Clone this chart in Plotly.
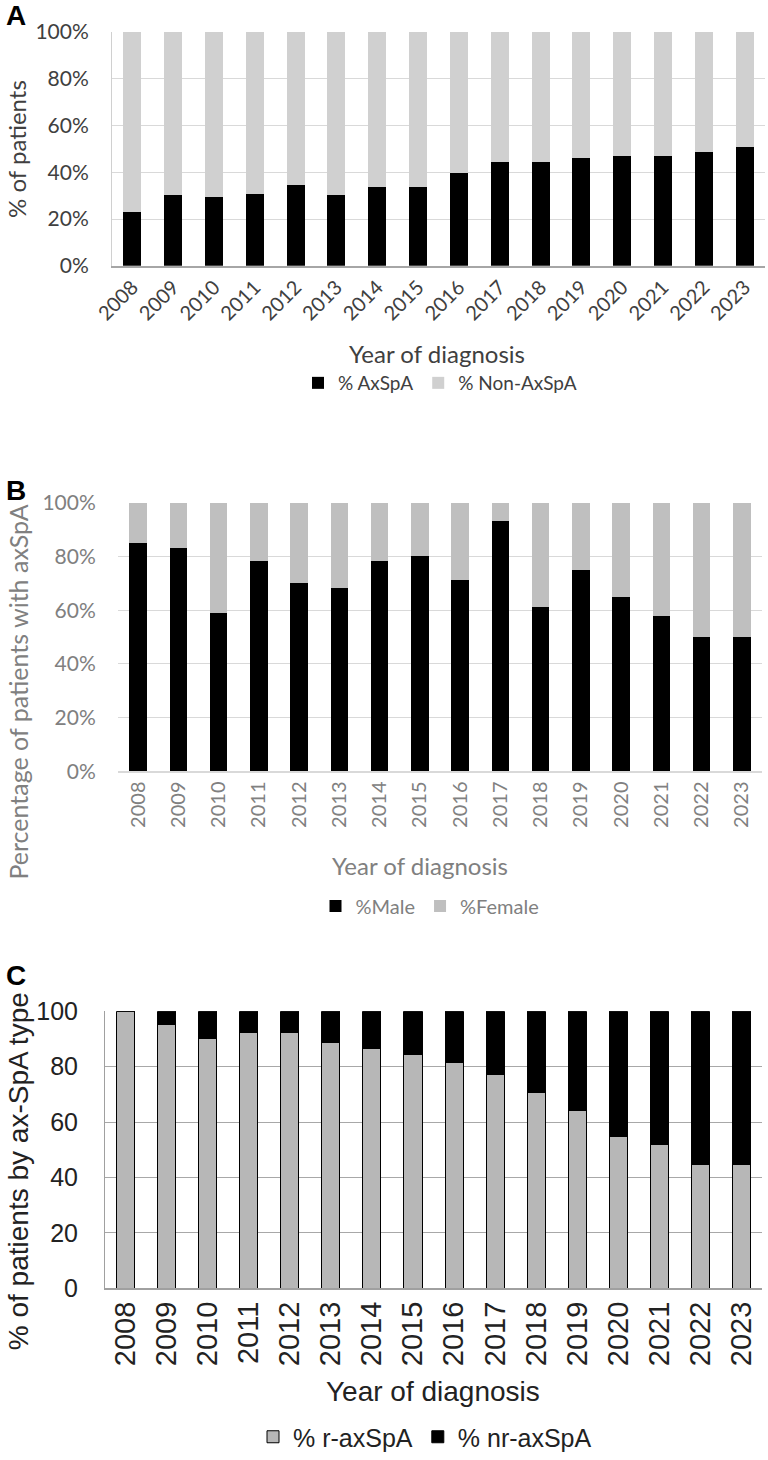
import plotly.graph_objects as go

years = [str(y) for y in range(2008, 2024)]

# Panel A
pct_axspa = [23.1, 30.1, 29.5, 30.7, 34.4, 30.1, 33.7, 33.7, 39.5, 44.4, 44.4, 45.9, 47.1, 47.1, 48.5, 50.8]
pct_non_axspa = [76.9, 69.9, 70.5, 69.3, 65.6, 69.9, 66.3, 66.3, 60.5, 55.6, 55.6, 54.1, 52.9, 52.9, 51.5, 49.2]

# Panel B
pct_male = [85.1, 83.1, 58.8, 78.4, 70.2, 68.4, 78.4, 80.1, 71.2, 93.1, 61.2, 75.1, 65.0, 57.9, 50.0, 50.0]
pct_female = [14.9, 16.9, 41.2, 21.6, 29.8, 31.6, 21.6, 19.9, 28.8, 6.9, 38.8, 24.9, 35.0, 42.1, 50.0, 50.0]

# Panel C
pct_r_axspa = [100, 95.2, 90.3, 92.4, 92.4, 88.8, 86.6, 84.5, 81.6, 77.3, 70.8, 64.3, 54.9, 52.0, 44.8, 44.8]
pct_nr_axspa = [0, 4.8, 9.7, 7.6, 7.6, 11.2, 13.4, 15.5, 18.4, 22.7, 29.2, 35.7, 45.1, 48.0, 55.2, 55.2]

tick_vals = [0, 20, 40, 60, 80, 100]
tick_pct = ["0%", "20%", "40%", "60%", "80%", "100%"]
tick_num = ["0", "20", "40", "60", "80", "100"]

W = 768.0
H = 1460.0

def py(pix):
    return 1 - pix / H

def px(pix):
    return pix / W

fontAB = "Lato, 'Open Sans', sans-serif"
fontC = "'Liberation Sans', Arial, sans-serif"
colA = "#404040"
colB = "#808080"
colC = "#222222"
clear = "rgba(0,0,0,0)"

fig = go.Figure()

# A
fig.add_trace(go.Bar(x=years, y=pct_axspa, name="% AxSpA", marker=dict(color="#000000", line=dict(width=0)),
                     xaxis="x", yaxis="y", legend="legend"))
fig.add_trace(go.Bar(x=years, y=pct_non_axspa, name="% Non-AxSpA", marker=dict(color="#d0d0d0", line=dict(width=0)),
                     xaxis="x", yaxis="y", legend="legend"))
# B
fig.add_trace(go.Bar(x=years, y=pct_male, name="%Male", marker=dict(color="#000000", line=dict(width=0)),
                     xaxis="x2", yaxis="y2", legend="legend2"))
fig.add_trace(go.Bar(x=years, y=pct_female, name="%Female", marker=dict(color="#bfbfbf", line=dict(width=0)),
                     xaxis="x2", yaxis="y2", legend="legend2"))
# C
fig.add_trace(go.Bar(x=years, y=pct_r_axspa, name="% r-axSpA", marker=dict(color="#b7b7b7", line=dict(width=1, color="#000000")),
                     xaxis="x3", yaxis="y3", legend="legend3"))
fig.add_trace(go.Bar(x=years, y=pct_nr_axspa, name="% nr-axSpA", marker=dict(color="#000000", line=dict(width=1, color="#000000")),
                     xaxis="x3", yaxis="y3", legend="legend3"))

fig.update_layout(
    width=int(W), height=int(H),
    margin=dict(l=0, r=0, t=0, b=0),
    paper_bgcolor="white", plot_bgcolor="white",
    barmode="stack",
    bargap=0.56,
    showlegend=True,
    xaxis=dict(domain=[px(112), px(765)], anchor="y", tickangle=-45, automargin=False,
               tickfont=dict(family=fontAB, size=20, color=colA),
               showline=True, linecolor="#a6a6a6", linewidth=2, ticks="", showgrid=False),
    yaxis=dict(domain=[py(266), py(32)], anchor="x", range=[0, 100], tickvals=tick_vals,
               ticktext=tick_pct, automargin=False,
               ticks="outside", ticklen=18, tickcolor=clear,
               tickfont=dict(family=fontAB, size=21, color=colA),
               showgrid=True, gridcolor="#d9d9d9", gridwidth=1,
               showline=True, linecolor="#d0d0d0", linewidth=1, zeroline=False),
    xaxis2=dict(domain=[px(118), px(762)], anchor="y2", tickangle=-90, automargin=False,
                tickfont=dict(family=fontAB, size=20, color=colB),
                showline=True, linecolor="#d9d9d9", linewidth=2, ticks="", showgrid=False),
    yaxis2=dict(domain=[py(772), py(503)], anchor="x2", range=[0, 100], tickvals=tick_vals,
                ticktext=tick_pct, automargin=False,
                ticks="outside", ticklen=17, tickcolor=clear,
                tickfont=dict(family=fontAB, size=21, color=colB),
                showgrid=True, gridcolor="#d9d9d9", gridwidth=1,
                showline=False, zeroline=False),
    xaxis3=dict(domain=[px(105), px(762)], anchor="y3", tickangle=-90, automargin=False,
                tickfont=dict(family=fontC, size=29, color=colC),
                showline=True, linecolor="#a0a0a0", linewidth=2, ticks="", showgrid=False),
    yaxis3=dict(domain=[py(1289), py(1012)], anchor="x3", range=[0, 100], tickvals=tick_vals,
                ticktext=tick_num, automargin=False,
                ticks="outside", ticklen=21, tickcolor=clear,
                tickfont=dict(family=fontC, size=25, color=colC),
                showgrid=True, gridcolor="#a8a8a8", gridwidth=1,
                showline=True, linecolor="#a0a0a0", linewidth=1, zeroline=False),
    legend=dict(orientation="h", traceorder="normal", x=px(440), xanchor="center", y=py(383), yanchor="middle",
                font=dict(family=fontAB, size=19, color=colA), bgcolor=clear),
    legend2=dict(orientation="h", traceorder="normal", x=px(430), xanchor="center", y=py(906), yanchor="middle",
                 font=dict(family=fontAB, size=20, color=colB), bgcolor=clear),
    legend3=dict(orientation="h", traceorder="normal", x=px(425), xanchor="center", y=py(1438), yanchor="middle",
                 font=dict(family=fontC, size=25, color=colC), bgcolor=clear),
)

annotations = [
    dict(text="<b>A</b>", x=px(16), y=py(16), font=dict(family=fontC, size=28, color="#000")),
    dict(text="<b>B</b>", x=px(16), y=py(491), font=dict(family=fontC, size=28, color="#000")),
    dict(text="<b>C</b>", x=px(16), y=py(976), font=dict(family=fontC, size=28, color="#000")),
    dict(text="% of patients", x=px(17), y=py(149), textangle=-90, font=dict(family=fontAB, size=24, color=colA)),
    dict(text="Percentage of patients with axSpA", x=px(18), y=py(693), textangle=-90,
         font=dict(family=fontAB, size=25, color=colB)),
    dict(text="% of patients by ax-SpA type", x=px(18), y=py(1172), textangle=-90,
         font=dict(family=fontC, size=28, color=colC)),
    dict(text="Year of diagnosis", x=px(437), y=py(354), font=dict(family=fontAB, size=24, color=colA)),
    dict(text="Year of diagnosis", x=px(420), y=py(866), font=dict(family=fontAB, size=24, color=colB)),
    dict(text="Year of diagnosis", x=px(433), y=py(1392), font=dict(family=fontC, size=28, color=colC)),
]
for a in annotations:
    a.update(xref="paper", yref="paper", showarrow=False, xanchor="center", yanchor="middle")
fig.update_layout(annotations=annotations)

fig.write_html("out.html", config={"displayModeBar": False},
               post_script="document.body.style.margin='0px';")
